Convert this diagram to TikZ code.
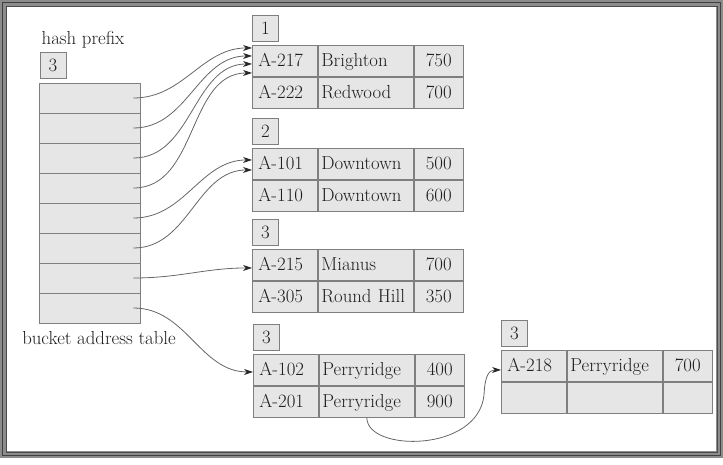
\documentclass[tikz,border=0pt]{standalone}
\usepackage{xcolor}
\usepackage{tikz}
\usetikzlibrary{positioning,arrows.meta}
\definecolor{cellfill}{HTML}{E6E6E6}
\definecolor{cellline}{HTML}{7F7F7F}
\definecolor{inkgray}{HTML}{1E1E1E}
\definecolor{linkgray}{HTML}{666666}
\definecolor{framegray}{HTML}{8C8C8C}
\tikzset{
  cell/.style={draw=cellline, fill=cellfill, line width=0.9pt, minimum height=31pt, inner ysep=0pt, text height=14pt, text depth=2pt, text=inkgray, align=left},
  idcol/.style={cell, inner xsep=6pt, text width=53pt},
  namecol/.style={cell, inner xsep=3pt, text width=89pt},
  balcol/.style={cell, inner xsep=6pt, text width=37pt, align=center},
  tag/.style={draw=cellline, fill=cellfill, line width=0.9pt, minimum width=26pt, minimum height=26pt, inner sep=0pt, text=inkgray},
  slot/.style={draw=cellline, fill=cellfill, line width=0.9pt, minimum width=101pt, minimum height=30pt, inner sep=0pt},
  link/.style={-{Stealth[length=9pt,width=6pt,color=black!85]}, draw=linkgray, line width=0.8pt}
}

\begin{document}
\begin{tikzpicture}[x=1pt, y=-1pt, font=\fontsize{18.8}{22}\selectfont]
  \useasboundingbox (0,0) rectangle (723,464);
  % frame
  \draw[framegray, line width=7pt] (3.5,3.5) rectangle (719.5,454.5);
  \draw[black!75, line width=1pt] (2.5,2.5) rectangle (720.5,455.5);
  \draw[black!70, line width=1pt] (6,6) rectangle (717,452);

  % directory
  \node[text=inkgray] (hp) at (83,40) {hash prefix};
  \node[tag] (gdepth) at (53,65) {3};
  \foreach \i in {1,...,8}
    \node[slot] (s\i) at (89.5,68+30*\i) {};
  \node[text=inkgray] (bat) at (99,338) {bucket address table};

  % bucket 1
  \node[idcol, anchor=north west] (b1r1a) at (252,45) {A-217};
  \node[namecol, right=0pt of b1r1a] (b1r1b) {Brighton};
  \node[balcol, right=0pt of b1r1b] (b1r1c) {750};
  \node[idcol, below=0pt of b1r1a] (b1r2a) {A-222};
  \node[namecol, right=0pt of b1r2a] (b1r2b) {Redwood};
  \node[balcol, right=0pt of b1r2b] (b1r2c) {700};
  \node[tag, anchor=south west] (t1) at ([yshift=3pt]b1r1a.north west) {1};

  % bucket 2
  \node[idcol, anchor=north west] (b2r1a) at (252,148) {A-101};
  \node[namecol, right=0pt of b2r1a] (b2r1b) {Downtown};
  \node[balcol, right=0pt of b2r1b] (b2r1c) {500};
  \node[idcol, below=0pt of b2r1a] (b2r2a) {A-110};
  \node[namecol, right=0pt of b2r2a] (b2r2b) {Downtown};
  \node[balcol, right=0pt of b2r2b] (b2r2c) {600};
  \node[tag, anchor=south west] (t2) at ([yshift=3pt]b2r1a.north west) {2};

  % bucket 3
  \node[idcol, anchor=north west] (b3r1a) at (252,249) {A-215};
  \node[namecol, right=0pt of b3r1a] (b3r1b) {Mianus};
  \node[balcol, right=0pt of b3r1b] (b3r1c) {700};
  \node[idcol, below=0pt of b3r1a] (b3r2a) {A-305};
  \node[namecol, right=0pt of b3r2a] (b3r2b) {Round Hill};
  \node[balcol, right=0pt of b3r2b] (b3r2c) {350};
  \node[tag, anchor=south west] (t3) at ([yshift=3pt]b3r1a.north west) {3};

  % bucket 4
  \node[idcol, anchor=north west] (b4r1a) at (253,354) {A-102};
  \node[namecol, right=0pt of b4r1a] (b4r1b) {Perryridge};
  \node[balcol, right=0pt of b4r1b] (b4r1c) {400};
  \node[idcol, below=0pt of b4r1a] (b4r2a) {A-201};
  \node[namecol, right=0pt of b4r2a] (b4r2b) {Perryridge};
  \node[balcol, right=0pt of b4r2b] (b4r2c) {900};
  \node[tag, anchor=south west] (t4) at ([yshift=3pt]b4r1a.north west) {3};

  % overflow bucket
  \node[idcol, anchor=north west] (b5r1a) at (501,350) {A-218};
  \node[namecol, right=0pt of b5r1a] (b5r1b) {Perryridge};
  \node[balcol, right=0pt of b5r1b] (b5r1c) {700};
  \node[idcol, below=0pt of b5r1a] (b5r2a) {};
  \node[namecol, right=0pt of b5r2a] (b5r2b) {};
  \node[balcol, right=0pt of b5r2b] (b5r2c) {};
  \node[tag, anchor=south west] (t5) at ([yshift=3pt]b5r1a.north west) {3};

  % pointers
  \draw[link] ([xshift=-7pt]s1.east) to[out=0,in=180] ([yshift=13pt]b1r1a.west);
  \draw[link] ([xshift=-7pt]s2.east) to[out=0,in=180] ([yshift=5pt]b1r1a.west);
  \draw[link] ([xshift=-7pt]s3.east) to[out=0,in=180] ([yshift=-3pt]b1r1a.west);
  \draw[link] ([xshift=-7pt]s4.east) to[out=0,in=180] ([yshift=-12pt]b1r1a.west);
  \draw[link] ([xshift=-7pt]s5.east) to[out=0,in=180] ([yshift=4pt]b2r1a.west);
  \draw[link] ([xshift=-7pt]s6.east) to[out=0,in=180] ([yshift=-6pt]b2r1a.west);
  \draw[link] ([xshift=-7pt]s7.east) to[out=0,in=180] ([yshift=-3pt]b3r1a.west);
  \draw[link] ([xshift=-7pt]s8.east) to[out=0,in=180] ([yshift=-2pt]b4r1a.west);

  \coordinate (dip) at (484,395);
  \draw[link] (b4r2b.south) .. controls +(0,34) and +(-6,58) .. (dip)
    .. controls +(1,-20) and +(-12,0) .. ([yshift=-4pt]b5r1a.west);
\end{tikzpicture}
\end{document}
